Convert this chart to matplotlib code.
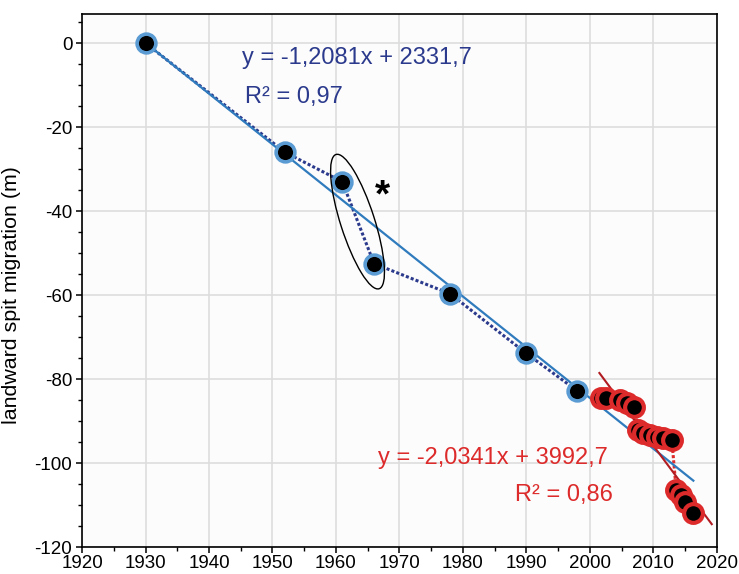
import matplotlib
matplotlib.use("Agg")
import numpy as np
import matplotlib.pyplot as plt
from matplotlib.patches import Ellipse
from matplotlib.transforms import ScaledTranslation
from matplotlib.ticker import MultipleLocator

plt.rcParams["font.family"] = ["Liberation Sans", "DejaVu Sans"]
plt.rcParams["axes.unicode_minus"] = False

# historical shoreline positions (maps / aerial photos)
anos_hist = [1930, 1952, 1961, 1966, 1978, 1990, 1998]
migr_hist = [0, -26, -33, -52.5, -59.7, -73.9, -82.8]

# recent surveys
anos_rec = [2001.8, 2002.6, 2004.7, 2005.9, 2007.0,
            2007.6, 2008.4, 2009.4, 2010.5, 2011.5, 2012.9,
            2013.6, 2014.4, 2015.0, 2016.3]
migr_rec = [-84.6, -84.5, -85.0, -85.8, -86.6,
            -92.1, -92.9, -93.3, -93.7, -94.1, -94.4,
            -106.4, -107.6, -109.2, -112.0]

# trend lines as printed on the chart
a_hist, b_hist, r2_hist = -1.2081, 2331.7, "0,97"
a_rec, b_rec, r2_rec = -2.0341, 3992.7, "0,86"
faixa_hist = [1930, 2016.3]
faixa_rec = [2001.5, 2019.2]

AZUL_CLARO = "#5a9bd3"
AZUL_LINHA = "#2f7bbd"
AZUL_ESCURO = "#2b3a8c"
VERMELHO = "#dd2a2a"
VERMELHO_ESC = "#b01c22"


def main():
    fig = plt.figure(figsize=(7.39, 5.74), dpi=100)
    ax = fig.add_axes([0.111, 0.047, 0.859, 0.929])
    ax.set_facecolor("#fcfcfc")

    ax.set_xlim(1920, 2020)
    ax.set_ylim(-120, 7)
    ax.xaxis.set_major_locator(MultipleLocator(10))
    ax.xaxis.set_minor_locator(MultipleLocator(5))
    ax.yaxis.set_major_locator(MultipleLocator(20))
    ax.yaxis.set_minor_locator(MultipleLocator(5))
    ax.grid(True, which="major", color="#dddddd", lw=1.2, zorder=0)
    ax.set_axisbelow(True)
    ax.tick_params(which="major", direction="out", length=4, width=1.1,
                   labelsize=13.5, colors="black")
    ax.tick_params(axis="x", which="major", pad=1.5)
    ax.tick_params(axis="y", which="major", pad=3)
    ax.tick_params(which="minor", direction="out", length=3, width=1.0)
    for s in ax.spines.values():
        s.set_linewidth(1.2)

    # dotted links between observations
    ax.plot(anos_hist, migr_hist, ls=(0, (1, 0.7)), lw=2.2,
            color=AZUL_ESCURO, zorder=2)
    ax.plot(anos_rec, migr_rec, ls=(0, (1, 0.7)), lw=2.2,
            color=VERMELHO, zorder=2)

    # regressions
    xh = np.array(faixa_hist)
    ax.plot(xh, a_hist * xh + b_hist, color=AZUL_LINHA, lw=1.6, zorder=3)
    xr = np.array(faixa_rec)
    ax.plot(xr, a_rec * xr + b_rec, color=VERMELHO_ESC, lw=1.5, zorder=3)

    # points
    ax.plot(anos_hist, migr_hist, ls="none", marker="o", ms=13.5, mew=2.6,
            mfc="black", mec=AZUL_CLARO, zorder=4)
    for x, y in zip(anos_rec, migr_rec):
        ax.plot([x], [y], ls="none", marker="o", ms=13.5, mew=3.0,
                mfc="black", mec=VERMELHO, zorder=4)

    # ellipse around the anomalous pair
    trans = fig.dpi_scale_trans + ScaledTranslation(1963.4, -42.5, ax.transData)
    ax.add_patch(Ellipse((0, 0), 0.34, 1.41, angle=17.8, fill=False,
                         ec="black", lw=1.0, transform=trans, zorder=5))
    ax.text(1967.4, -36.5, "*", fontsize=28, fontweight="bold",
            ha="center", va="center", zorder=5)

    ax.text(1945.2, -3.6, "y = -1,2081x + 2331,7", color=AZUL_ESCURO,
            fontsize=17, ha="left", va="center")
    ax.text(1945.7, -12.9, "R² = " + r2_hist, color=AZUL_ESCURO,
            fontsize=17, ha="left", va="center")
    ax.text(1966.6, -98.8, "y = -2,0341x + 3992,7", color=VERMELHO,
            fontsize=17, ha="left", va="center")
    ax.text(2003.6, -107.6, "R² = " + r2_rec, color=VERMELHO,
            fontsize=17, ha="right", va="center")

    ax.set_ylabel("landward spit migration (m)", fontsize=15.4)
    ax.yaxis.set_label_coords(-0.096, 0.473)

    fig.savefig("out.png", dpi=100)


if __name__ == "__main__":
    main()
